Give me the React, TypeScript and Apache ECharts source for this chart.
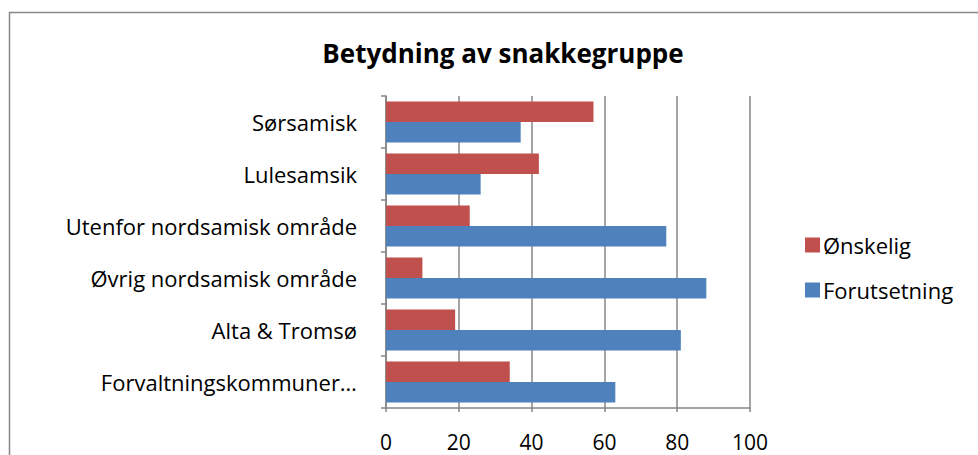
import React, { useEffect, useRef } from "react";
import * as echarts from "echarts";

const categories = [
  "Forvaltningskommuner…",
  "Alta & Tromsø",
  "Øvrig nordsamisk område",
  "Utenfor nordsamisk område",
  "Lulesamsik",
  "Sørsamisk",
];
const forutsetning = [63, 81, 88, 77, 26, 37];
const onskelig = [34, 19, 10, 23, 42, 57];
const xTicks = [0, 20, 40, 60, 80, 100];

const FONT = "'Open Sans', 'Noto Sans', sans-serif";

export default function App() {
  const ref = useRef<HTMLDivElement>(null);
  useEffect(() => {
    const chart = echarts.init(ref.current!, null, { renderer: "svg" });
    chart.setOption({
      animation: false,
      backgroundColor: "#ffffff",
      title: {
        text: "Betydning av snakkegruppe",
        left: 498,
        textAlign: "center",
        top: 35,
        textStyle: { fontFamily: FONT, fontSize: 26, fontWeight: "bold", color: "#000" },
      },
      graphic: [
        {
          type: "rect",
          shape: { x: 9.5, y: 12.5, width: 1000, height: 500 },
          style: { fill: "none", stroke: "#868686", lineWidth: 1.5 },
          silent: true,
        },
      ],
      legend: {
        orient: "vertical",
        left: 800,
        top: 229,
        itemWidth: 15,
        itemHeight: 15,
        itemGap: 23,
        icon: "rect",
        data: ["Ønskelig", "Forutsetning"],
        textStyle: { fontFamily: FONT, fontSize: 22, color: "#000", padding: [0, 0, 0, -2] },
      },
      grid: { left: 386, right: 228, top: 96, bottom: 47, containLabel: false },
      xAxis: {
        type: "value",
        min: 0,
        max: 100,
        interval: 20,
        axisLine: { show: true, lineStyle: { color: "#868686", width: 1.5 } },
        axisTick: { show: true, length: 4, lineStyle: { color: "#868686", width: 1.5 } },
        splitLine: { show: true, lineStyle: { color: "#868686", width: 1.5 } },
        axisLabel: {
          fontFamily: FONT,
          fontSize: 21,
          lineHeight: 22,
          color: "#000",
          margin: 23,
          formatter: (v: number) => (xTicks.includes(v) ? String(v) : ""),
        },
      },
      yAxis: {
        type: "category",
        data: categories,
        axisLine: { show: true, lineStyle: { color: "#868686", width: 1.5 } },
        axisTick: { show: true, length: 5, lineStyle: { color: "#868686", width: 1.5 } },
        axisLabel: { fontFamily: FONT, fontSize: 22, color: "#000", margin: 29 },
      },
      series: [
        {
          name: "Ønskelig",
          type: "bar",
          data: onskelig,
          itemStyle: { color: "#C0504D" },
          barGap: "0%",
          barCategoryGap: "21%",
        },
        {
          name: "Forutsetning",
          type: "bar",
          data: forutsetning,
          itemStyle: { color: "#4F81BD" },
          barGap: "0%",
          barCategoryGap: "21%",
        },
      ],
    });
    return () => chart.dispose();
  }, []);
  return (
    <div
      ref={ref}
      style={{ position: "fixed", left: 0, top: 0, width: 978, height: 455 }}
    />
  );
}
